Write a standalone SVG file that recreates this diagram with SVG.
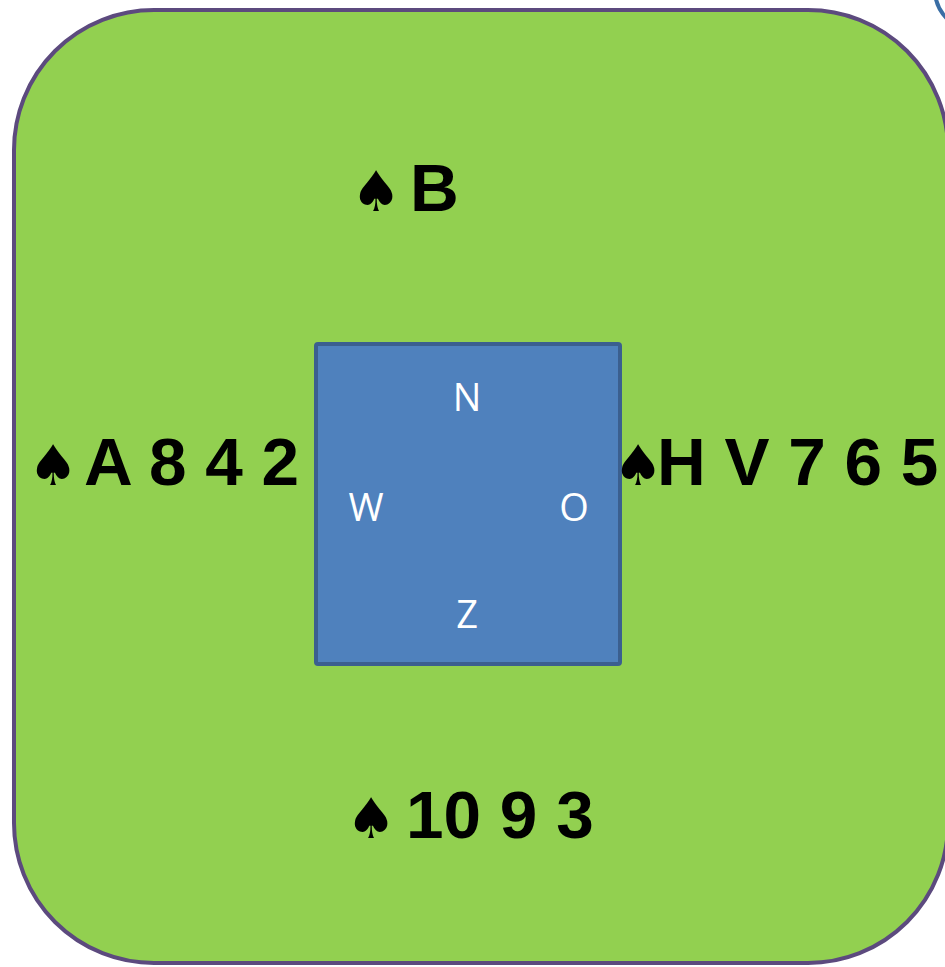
<svg xmlns="http://www.w3.org/2000/svg" width="945" height="967" viewBox="0 0 945 967">
<style>
.big{font-family:"Liberation Sans",Arial,sans-serif;font-weight:bold;font-size:67.5px;fill:#000}
.sp{font-family:"DejaVu Sans",sans-serif;font-weight:normal;font-size:56px}
.dir{font-family:"Open Sans","Liberation Sans",sans-serif;font-size:38px;fill:#fff;text-anchor:middle}
</style>
<rect width="945" height="967" fill="#fff"/>
<g id="other">
<circle cx="975" cy="-10" r="40" fill="none" stroke="#3A6EA5" stroke-width="4"/>
</g>
<g id="table">
<rect x="14" y="10" width="934" height="953" rx="140" ry="140" fill="#92D050" stroke="#5C4A7E" stroke-width="4"/>
</g>
<g id="compass">
<rect x="316" y="344" width="304" height="320" rx="2" fill="#4F81BD" stroke="#3B5F8F" stroke-width="4"/>
<text class="dir" x="467" y="411">N</text>
<text class="dir" x="366" y="521">W</text>
<text class="dir" x="574" y="521">O</text>
<text class="dir" x="467" y="628">Z</text>
</g>
<g id="north"><text class="big" y="211"><tspan class="sp" x="351">♠</tspan><tspan x="410">B</tspan></text></g>
<g id="west"><text class="big" y="485"><tspan class="sp" x="28">♠</tspan><tspan x="84">A 8 4 2</tspan></text></g>
<g id="east"><text class="big" y="485"><tspan class="sp" x="613">♠</tspan><tspan x="657">H V 7 6 5</tspan></text></g>
<g id="south"><text class="big" y="838"><tspan class="sp" x="346">♠</tspan><tspan x="406">10 9 3</tspan></text></g>
</svg>
